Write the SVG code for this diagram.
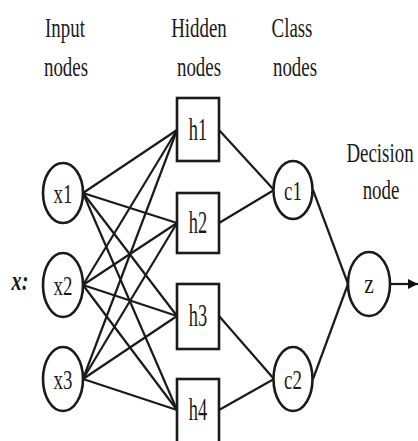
<svg xmlns="http://www.w3.org/2000/svg" width="418" height="441" viewBox="0 0 418 441">
<defs>
<style>
.bg{fill:#fff}
.node{fill:#fff;stroke:#1a1a1a;stroke-width:2.6}
.edge{stroke:#1a1a1a;stroke-width:2.2;fill:none}
.t{font-size:27px;fill:#1a1a1a;text-anchor:middle}
.lbl{font-size:27px;fill:#1a1a1a;text-anchor:middle}
.xi{font-size:27px;font-style:italic;font-weight:bold;fill:#1a1a1a;text-anchor:middle}
</style>
<marker id="arr" viewBox="0 0 10 10" refX="10" refY="5" markerWidth="10" markerHeight="12" markerUnits="userSpaceOnUse" orient="auto">
<path d="M0,0 L10,5 L0,10 Z" fill="#111"/>
</marker>
</defs>
<rect class="bg" x="0" y="0" width="418" height="441"/>

<g id="headers" font-family="'Liberation Serif', 'Times New Roman', serif">
<text class="t" transform="translate(65,37) scale(0.7,1)">Input</text>
<text class="t" transform="translate(66,76) scale(0.7,1)">nodes</text>
<text class="t" transform="translate(199,37) scale(0.7,1)">Hidden</text>
<text class="t" transform="translate(199,76) scale(0.7,1)">nodes</text>
<text class="t" transform="translate(292,37) scale(0.7,1)">Class</text>
<text class="t" transform="translate(295,76) scale(0.7,1)">nodes</text>
<text class="t" transform="translate(380,162) scale(0.7,1)">Decision</text>
<text class="t" transform="translate(381,199) scale(0.7,1)">node</text>
<text class="xi" transform="translate(20,290) scale(0.75,1)">x:</text>
</g>

<g id="connectors">
<line class="edge" x1="83" y1="193" x2="177" y2="130"/>
<line class="edge" x1="83" y1="193" x2="177" y2="223"/>
<line class="edge" x1="83" y1="193" x2="177" y2="316"/>
<line class="edge" x1="83" y1="193" x2="177" y2="410"/>
<line class="edge" x1="83" y1="285" x2="177" y2="130"/>
<line class="edge" x1="83" y1="285" x2="177" y2="223"/>
<line class="edge" x1="83" y1="285" x2="177" y2="316"/>
<line class="edge" x1="83" y1="285" x2="177" y2="410"/>
<line class="edge" x1="83" y1="379" x2="177" y2="130"/>
<line class="edge" x1="83" y1="379" x2="177" y2="223"/>
<line class="edge" x1="83" y1="379" x2="177" y2="316"/>
<line class="edge" x1="83" y1="379" x2="177" y2="410"/>
<line class="edge" x1="219" y1="130" x2="274" y2="190"/>
<line class="edge" x1="219" y1="223" x2="274" y2="190"/>
<line class="edge" x1="219" y1="316" x2="274" y2="379"/>
<line class="edge" x1="219" y1="410" x2="274" y2="379"/>
<line class="edge" x1="313" y1="190" x2="348" y2="284"/>
<line class="edge" x1="313" y1="379" x2="348" y2="284"/>
<line class="edge" x1="390" y1="284" x2="418" y2="284" marker-end="url(#arr)"/>
</g>

<g font-family="'Liberation Serif', 'Times New Roman', serif">
<g id="x1"><ellipse class="node" cx="63" cy="193" rx="20" ry="30"/><text class="lbl" transform="translate(63,203) scale(0.7,1)">x1</text></g>
<g id="x2"><ellipse class="node" cx="63" cy="285" rx="20" ry="32"/><text class="lbl" transform="translate(63,295) scale(0.7,1)">x2</text></g>
<g id="x3"><ellipse class="node" cx="63" cy="379" rx="20" ry="32"/><text class="lbl" transform="translate(63,389) scale(0.7,1)">x3</text></g>

<g id="h1"><rect class="node" x="177" y="98" width="42" height="63"/><text class="lbl" transform="translate(198,140) scale(0.68,1.15)">h1</text></g>
<g id="h2"><rect class="node" x="177" y="193" width="42" height="60"/><text class="lbl" transform="translate(198,233) scale(0.68,1.15)">h2</text></g>
<g id="h3"><rect class="node" x="177" y="284" width="42" height="65"/><text class="lbl" transform="translate(198,326) scale(0.68,1.15)">h3</text></g>
<g id="h4"><rect class="node" x="177" y="379" width="42" height="64"/><text class="lbl" transform="translate(198,420) scale(0.68,1.15)">h4</text></g>

<g id="c1"><ellipse class="node" cx="293" cy="190" rx="19.5" ry="29"/><text class="lbl" transform="translate(293,200) scale(0.7,1)">c1</text></g>
<g id="c2"><ellipse class="node" cx="293" cy="379" rx="19.5" ry="32"/><text class="lbl" transform="translate(293,389) scale(0.7,1)">c2</text></g>

<g id="z"><ellipse class="node" cx="369" cy="284" rx="21" ry="32"/><text class="lbl" transform="translate(369,293) scale(0.8,1)">z</text></g>
</g>
</svg>
